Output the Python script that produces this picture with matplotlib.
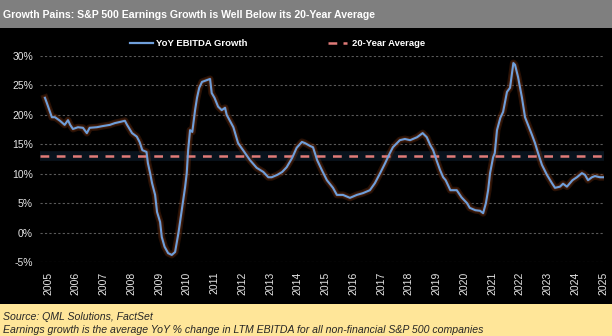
import matplotlib
matplotlib.use('Agg')
import matplotlib.pyplot as plt
from matplotlib.patches import Rectangle
from matplotlib.lines import Line2D

# ---------------- dados ----------------
titulo = 'Growth Pains: S&P 500 Earnings Growth is Well Below its 20-Year Average'
fonte = 'Source: QML Solutions, FactSet'
nota = 'Earnings growth is the average YoY % change in LTM EBITDA for all non-financial S&P 500 companies'

anos = [2004.89, 2004.96, 2005.14, 2005.25, 2005.43, 2005.6, 2005.72, 2005.8, 2005.9,
        2006.08, 2006.26, 2006.4, 2006.5, 2006.76, 2006.98, 2007.23, 2007.41, 2007.6,
        2007.77, 2007.85, 2008.03, 2008.2, 2008.3, 2008.4, 2008.55, 2008.6, 2008.68,
        2008.75, 2008.86, 2008.93, 2009.04, 2009.1, 2009.2, 2009.33, 2009.46, 2009.58,
        2009.7, 2009.82, 2009.94, 2010.0, 2010.05, 2010.12, 2010.2, 2010.3, 2010.37,
        2010.45, 2010.55, 2010.73, 2010.84, 2010.9, 2011.0, 2011.13, 2011.26, 2011.38,
        2011.44, 2011.68, 2011.85, 2012.03, 2012.28, 2012.52, 2012.76, 2012.94, 2013.06,
        2013.26, 2013.44, 2013.6, 2013.8, 2013.96, 2014.15, 2014.26, 2014.45, 2014.55,
        2014.7, 2014.87, 2015.05, 2015.27, 2015.41, 2015.63, 2015.88, 2016.13, 2016.35,
        2016.6, 2016.78, 2016.97, 2017.15, 2017.32, 2017.43, 2017.68, 2017.86, 2018.05,
        2018.3, 2018.5, 2018.65, 2018.77, 2018.88, 2019.0, 2019.13, 2019.24, 2019.33,
        2019.5, 2019.73, 2019.9, 2020.1, 2020.2, 2020.4, 2020.57, 2020.68, 2020.78,
        2020.86, 2020.93, 2021.04, 2021.1, 2021.18, 2021.3, 2021.4, 2021.54, 2021.65,
        2021.77, 2021.83, 2021.94, 2022.08, 2022.19, 2022.3, 2022.44, 2022.55, 2022.66,
        2022.8, 2022.98, 2023.16, 2023.27, 2023.45, 2023.56, 2023.7, 2023.9, 2024.06,
        2024.24, 2024.35, 2024.46, 2024.6, 2024.71, 2024.89, 2025.03]
crescimento = [22.9, 22.0, 19.6, 19.6, 19.0, 18.3, 19.1, 18.3, 17.6,
               17.9, 17.8, 16.9, 17.8, 17.9, 18.1, 18.3, 18.6, 18.8,
               19.0, 18.3, 16.9, 16.3, 15.4, 14.0, 13.7, 11.8, 10.1,
               8.4, 6.4, 3.5, 1.8, -0.75, -2.4, -3.5, -3.8, -3.3,
               -0.1, 3.8, 7.7, 10.1, 14.0, 17.4, 17.1, 20.8, 22.9,
               24.6, 25.6, 25.9, 26.1, 23.7, 22.9, 21.4, 20.8, 21.2,
               20.0, 17.9, 15.2, 14.0, 12.3, 11.0, 10.3, 9.4, 9.4,
               9.8, 10.3, 11.1, 12.7, 14.4, 15.4, 15.2, 14.7, 14.5,
               12.3, 10.6, 8.9, 7.6, 6.4, 6.4, 5.9, 6.4, 6.7,
               7.2, 8.4, 10.1, 11.8, 13.5, 14.5, 15.7, 15.9, 15.7,
               16.2, 16.9, 16.2, 14.9, 14.0, 12.3, 10.6, 9.4, 8.9,
               7.2, 7.2, 6.0, 5.0, 4.2, 3.8, 3.7, 3.3, 5.0,
               7.2, 10.1, 12.8, 13.5, 17.4, 19.5, 20.5, 23.9, 24.6,
               28.8, 28.5, 26.4, 22.9, 19.6, 18.3, 16.6, 15.2, 13.5,
               11.5, 9.8, 8.4, 7.6, 7.8, 8.3, 7.8, 8.9, 9.4,
               10.1, 9.8, 8.9, 9.4, 9.6, 9.4, 9.4]
media20anos = 13.0

anosEixo = list(range(2005, 2026))
ticksY = [-5, 0, 5, 10, 15, 20, 25, 30]

# ---------------- gráfico ----------------
plt.rcParams['font.family'] = ['Liberation Sans Narrow', 'Liberation Sans', 'DejaVu Sans']

fig = plt.figure(figsize=(6.12, 3.36), dpi=100)
fig.patch.set_facecolor('black')
fig.patches.append(Rectangle((0, 1 - 28 / 336), 1, 28 / 336, transform=fig.transFigure,
                             facecolor='#7f7f7f', edgecolor='none', zorder=0))
fig.patches.append(Rectangle((0, 0), 1, 32 / 336, transform=fig.transFigure,
                             facecolor='#ffe699', edgecolor='none', zorder=0))

fig.text(0.005, 1 - 15 / 336, titulo, color='white', fontsize=7.6, fontweight='bold',
         va='center', ha='left')
fig.text(0.005, 1 - 317 / 336, fonte, color='#262626', fontsize=7.6, style='italic',
         va='center', ha='left')
fig.text(0.005, 1 - 330 / 336, nota, color='#262626', fontsize=7.6, style='italic',
         va='center', ha='left')

ax = fig.add_axes([40 / 612, 1 - 262 / 336, 564 / 612, 206 / 336])
ax.set_facecolor('black')

# brilho
ax.axhline(media20anos, color='#13263a', lw=7, alpha=0.5, zorder=1)
ax.plot(anos, crescimento, color='#8a3a12', lw=5, alpha=0.3, zorder=2,
        solid_joinstyle='round')
ax.plot(anos, crescimento, color='#5e2a10', lw=3, alpha=0.5, zorder=2,
        solid_joinstyle='round')
ax.axhline(media20anos, color='#e07b78', lw=1.8, dashes=(3.5, 3), zorder=3)
ax.plot(anos, crescimento, color='#6f9fdb', lw=1.5, zorder=4, solid_joinstyle='round')

ax.set_xlim(2004.712, 2025.036)
ax.set_ylim(-5, 30)
ax.set_xticks(anosEixo)
ax.set_xticklabels([str(a) for a in anosEixo], rotation=90, fontsize=7.5,
                   family=['Liberation Sans', 'DejaVu Sans'])
ax.set_yticks(ticksY)
ax.set_yticklabels([f'{t}%' for t in ticksY], fontsize=7.5,
                   family=['Liberation Sans', 'DejaVu Sans'])
ax.tick_params(colors='#e6e6e6', length=0)
ax.tick_params(axis='x', pad=7)
ax.tick_params(axis='y', pad=5)
ax.yaxis.grid(True, color='#5a5a5a', lw=0.8, dashes=(2, 2))
ax.set_axisbelow(True)
for s in ax.spines.values():
    s.set_visible(False)

# legenda
yl = 1 - 43 / 336
fig.lines.append(Line2D([130 / 612, 153 / 612], [yl, yl], transform=fig.transFigure,
                        color='#6f9fdb', lw=1.6))
fig.text(156 / 612, yl, 'YoY EBITDA Growth', color='white', fontsize=6.8,
         fontweight='bold', va='center', ha='left')
fig.lines.append(Line2D([328 / 612, 347 / 612], [yl, yl], transform=fig.transFigure,
                        color='#e07b78', lw=1.8, dashes=(3.5, 2.5)))
fig.text(352 / 612, yl, '20-Year Average', color='white', fontsize=6.8,
         fontweight='bold', va='center', ha='left')

fig.savefig('out.png', dpi=100, facecolor=fig.get_facecolor())
